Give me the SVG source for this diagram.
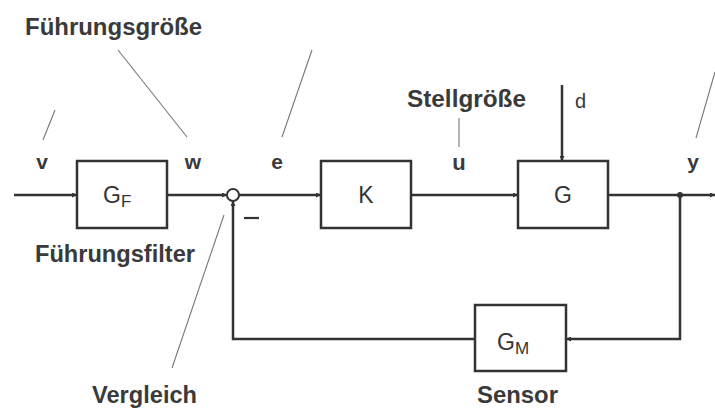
<svg xmlns="http://www.w3.org/2000/svg" width="715" height="409" viewBox="0 0 715 409">
<defs>
<marker id="ah" viewBox="0 0 10 10" refX="10" refY="5" markerWidth="7" markerHeight="5" markerUnits="userSpaceOnUse" orient="auto">
<path d="M0,0 L10,5 L0,10 z" fill="#333"/>
</marker>
</defs>
<style>
.box{fill:#fff;stroke:#333;stroke-width:2.5}
.ln{fill:none;stroke:#333;stroke-width:2.5}
.ld{fill:none;stroke:#777;stroke-width:1.1}
.t{font-family:"Liberation Sans",Arial,sans-serif;fill:#3a3a3a}
.b{font-weight:bold}
.sym{font-family:"Liberation Sans",Arial,sans-serif;fill:#333;font-size:23px}
.sub{font-size:17px}
</style>
<rect width="715" height="409" fill="#fff"/>
<g id="connectors">
<line class="ln" x1="14" y1="195" x2="77" y2="195" marker-end="url(#ah)"/>
<line class="ln" x1="167" y1="195" x2="227" y2="195" marker-end="url(#ah)"/>
<line class="ln" x1="239" y1="195" x2="321" y2="195" marker-end="url(#ah)"/>
<line class="ln" x1="411" y1="195" x2="518" y2="195" marker-end="url(#ah)"/>
<line class="ln" x1="608" y1="195" x2="715" y2="195" marker-end="url(#ah)"/>
<polyline class="ln" points="680,195 680,339 566,339" marker-end="url(#ah)"/>
<polyline class="ln" points="475,339 233,339 233,201" marker-end="url(#ah)"/>
<line class="ln" x1="562" y1="85" x2="562" y2="161" marker-end="url(#ah)"/>
<circle cx="680" cy="195" r="3" fill="#333"/>
<line x1="244" y1="218" x2="259" y2="218" stroke="#333" stroke-width="2.2"/>
</g>
<g id="leaders">
<line class="ld" x1="118" y1="50" x2="187" y2="137"/>
<line class="ld" x1="312" y1="50" x2="282" y2="137"/>
<line class="ld" x1="55" y1="110" x2="43" y2="140"/>
<line class="ld" x1="459" y1="118" x2="459" y2="147"/>
<line class="ld" x1="715" y1="72" x2="696" y2="138"/>
<line class="ld" x1="224" y1="215" x2="172" y2="368"/>
</g>
<g id="sum"><circle cx="233" cy="195" r="6" fill="#fff" stroke="#333" stroke-width="2"/></g>
<g id="GF"><rect class="box" x="77" y="161" width="90" height="67"/><text class="sym" x="103" y="203">G<tspan class="sub" dy="4">F</tspan></text></g>
<g id="K"><rect class="box" x="321" y="161" width="90" height="67"/><text class="sym" x="366" y="203" text-anchor="middle">K</text></g>
<g id="G"><rect class="box" x="518" y="161" width="90" height="67"/><text class="sym" x="563" y="203" text-anchor="middle">G</text></g>
<g id="GM"><rect class="box" x="475" y="305" width="91" height="66"/><text class="sym" x="497" y="350">G<tspan class="sub" dy="4">M</tspan></text></g>
<g id="labels">
<text class="t b" x="25" y="35" font-size="23.5" textLength="177" lengthAdjust="spacingAndGlyphs">Führungsgröße</text>
<text class="t b" x="42" y="169" font-size="21" text-anchor="middle">v</text>
<text class="t b" x="193" y="169" font-size="21" text-anchor="middle">w</text>
<text class="t b" x="277" y="169" font-size="21" text-anchor="middle">e</text>
<text class="t b" x="459" y="170" font-size="22" text-anchor="middle">u</text>
<text class="t b" x="693" y="169" font-size="21" text-anchor="middle">y</text>
<text class="t" x="575" y="108" font-size="20">d</text>
<text class="t b" x="407" y="107" font-size="23" textLength="119" lengthAdjust="spacingAndGlyphs">Stellgröße</text>
<text class="t b" x="35" y="262" font-size="23.5" textLength="160" lengthAdjust="spacingAndGlyphs">Führungsfilter</text>
<text class="t b" x="92" y="403" font-size="23.5" textLength="105" lengthAdjust="spacingAndGlyphs">Vergleich</text>
<text class="t b" x="477" y="403" font-size="23.5" textLength="81" lengthAdjust="spacingAndGlyphs">Sensor</text>
</g>
</svg>
